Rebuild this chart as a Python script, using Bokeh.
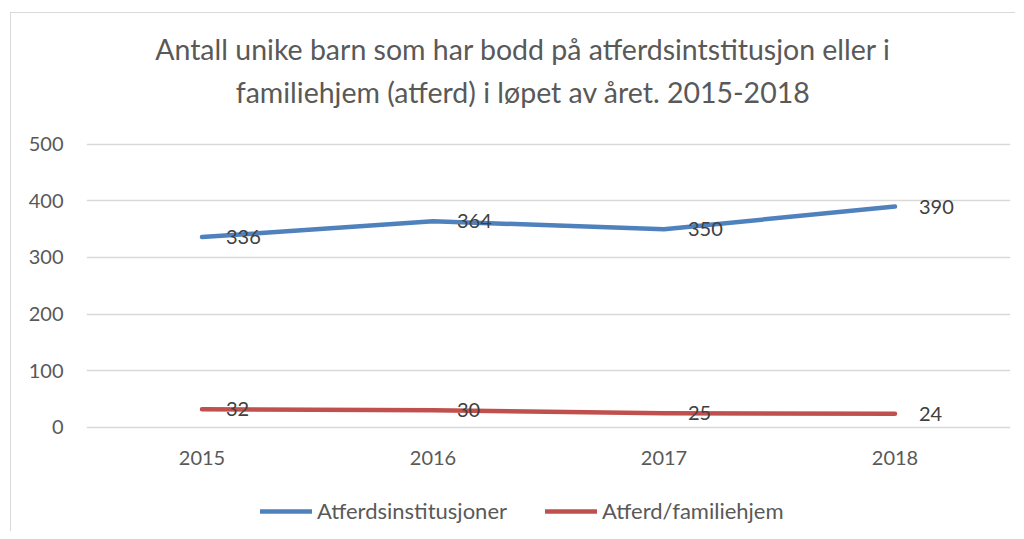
from bokeh.plotting import figure
from bokeh.models import (ColumnDataSource, Legend, LegendItem, Label,
                          FixedTicker, Range1d, FactorRange)
from bokeh.core.properties import value
from bokeh.embed import file_html
from bokeh.resources import INLINE

# ---- data ----
years = ["2015", "2016", "2017", "2018"]
institusjoner = [336, 364, 350, 390]
familiehjem = [32, 30, 25, 24]
series_names = ["Atferdsinstitusjoner", "Atferd/familiehjem"]
title_lines = ["Antall unike barn som har bodd på atferdsintstitusjon eller i",
               "familiehjem (atferd) i løpet av året. 2015-2018"]
y_ticks = [0, 100, 200, 300, 400, 500]

FONT = "Lato"
BLUE = "#4F81BD"
RED = "#C0504D"
GRID = "#D9D9D9"
TXT = "#595959"
LBL = "#404040"

# the frame spans the whole canvas height so title and legend can sit inside it;
# only the ticks 0..500 get grid lines, and the x axis is pinned to y = 0
p = figure(x_range=FactorRange(*years, range_padding=0),
           y_range=Range1d(-184, 731),
           frame_width=924, frame_height=518,
           output_backend="svg", toolbar_location=None,
           min_border_left=75, min_border_right=5,
           min_border_top=0, min_border_bottom=0,
           title_location=None)
p.styles = {"position": "relative", "left": "10px", "top": "12px",
            "border-left": "1px solid #D9D9D9", "border-top": "1px solid #D9D9D9"}
p.outline_line_color = None
p.background_fill_color = "white"
p.border_fill_color = "white"

# grid
p.xgrid.grid_line_color = None
p.ygrid.grid_line_color = GRID
p.ygrid.grid_line_width = 1.3
p.yaxis.ticker = FixedTicker(ticks=y_ticks)

# axes
for ax in (p.xaxis, p.yaxis):
    ax.axis_line_color = None
    ax.major_tick_line_color = None
    ax.minor_tick_line_color = None
    ax.major_label_text_font = FONT
    ax.major_label_text_font_size = "20px"
    ax.major_label_text_color = TXT
p.yaxis.major_label_standoff = 17
p.xaxis.major_label_standoff = 18
p.xaxis.fixed_location = 0

src = ColumnDataSource(dict(x=years, a=institusjoner, b=familiehjem,
                            at=[str(v) for v in institusjoner],
                            bt=[str(v) for v in familiehjem]))

r1 = p.line("x", "a", source=src, line_color=BLUE, line_width=4.5, line_cap="round", line_join="round")
r2 = p.line("x", "b", source=src, line_color=RED, line_width=4.5, line_cap="round", line_join="round")

for col in ("at", "bt"):
    p.text(x="x", y=col[0], text=col, source=src, x_offset=24,
           text_align="left", text_baseline="middle",
           text_font=value(FONT), text_font_size="20px", text_color=LBL)

# title (two centred lines)
for txt, yy in zip(title_lines, [668, 592]):
    p.add_layout(Label(x=1.89, y=yy, text=txt, text_align="center",
                       text_baseline="middle", text_font=FONT,
                       text_font_size="28.5px", text_color=TXT))

legend = Legend(items=[LegendItem(label=series_names[0], renderers=[r1]),
                       LegendItem(label=series_names[1], renderers=[r2])],
                orientation="horizontal", location=(174, 7),
                border_line_color=None, background_fill_alpha=0,
                padding=0, margin=0, spacing=38, glyph_width=52, glyph_height=20,
                label_height=24, label_standoff=5, label_text_font=FONT,
                label_text_font_size="22px", label_text_color=TXT)
p.add_layout(legend, "center")

open("out.html", "w").write(file_html(p, INLINE))
